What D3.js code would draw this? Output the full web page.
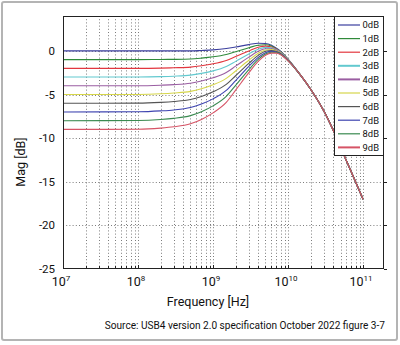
<!DOCTYPE html>
<html><head><meta charset="utf-8">
<script src="https://cdn.jsdelivr.net/npm/d3@7"></script>
<style>
body{margin:0;background:#fff}
svg{display:block}
text{font-family:Roboto,"Noto Sans",sans-serif;fill:#111}
</style>
</head><body>
<svg id="chart" width="400" height="345"></svg>
<script>
// ---- data ----
const freqHz = [1e7,1e8,2e8,3e8,5e8,7e8,1e9,1.5e9,2e9,3e9,4e9,5e9,6e9,7e9,8e9,1e10,1.5e10,2e10,3e10,4e10,6e10,1e11];
const seriesNames = ["0dB","1dB","2dB","3dB","4dB","5dB","6dB","7dB","8dB","9dB"];
const mag0dB = [0,0,0,0,0,0.05,0.12,0.28,0.45,0.72,0.88,0.85,0.65,0.30,-0.05,-0.95,-2.9,-4.4,-6.9,-9.1,-12.6,-17.0];
const mag1dB = [-1,-1.0,-0.98,-0.97,-0.93,-0.83,-0.68,-0.41,-0.10,0.36,0.65,0.70,0.55,0.24,-0.09,-0.97,-2.9,-4.4,-6.9,-9.1,-12.6,-17.0];
const mag2dB = [-2,-2.0,-1.97,-1.93,-1.86,-1.71,-1.48,-1.09,-0.65,0.0,0.42,0.55,0.45,0.18,-0.14,-0.99,-2.9,-4.4,-6.9,-9.1,-12.6,-17.0];
const mag3dB = [-3,-2.99,-2.95,-2.90,-2.78,-2.58,-2.29,-1.78,-1.20,-0.35,0.19,0.40,0.35,0.12,-0.18,-1.02,-2.9,-4.4,-6.9,-9.1,-12.6,-17.0];
const mag4dB = [-4,-3.99,-3.93,-3.87,-3.71,-3.46,-3.09,-2.47,-1.75,-0.71,-0.04,0.25,0.25,0.06,-0.23,-1.04,-2.9,-4.4,-6.9,-9.1,-12.6,-17.0];
const mag5dB = [-5,-4.99,-4.92,-4.83,-4.64,-4.34,-3.89,-3.15,-2.30,-1.07,-0.28,0.10,0.15,-0.01,-0.27,-1.06,-2.9,-4.4,-6.9,-9.1,-12.6,-17.0];
const mag6dB = [-6,-5.99,-5.90,-5.80,-5.57,-5.22,-4.69,-3.84,-2.85,-1.43,-0.51,-0.05,0.05,-0.07,-0.32,-1.08,-2.9,-4.4,-6.9,-9.1,-12.6,-17.0];
const mag7dB = [-7,-6.98,-6.88,-6.77,-6.49,-6.09,-5.50,-4.53,-3.40,-1.78,-0.74,-0.20,-0.05,-0.13,-0.36,-1.10,-2.9,-4.4,-6.9,-9.1,-12.6,-17.0];
const mag8dB = [-8,-7.98,-7.87,-7.73,-7.42,-6.97,-6.30,-5.21,-3.95,-2.14,-0.97,-0.35,-0.15,-0.19,-0.41,-1.13,-2.9,-4.4,-6.9,-9.1,-12.6,-17.0];
const mag9dB = [-9,-8.98,-8.85,-8.70,-8.35,-7.85,-7.10,-5.90,-4.50,-2.50,-1.20,-0.50,-0.25,-0.25,-0.45,-1.15,-2.9,-4.4,-6.9,-9.1,-12.6,-17.0];
const seriesValues = [mag0dB,mag1dB,mag2dB,mag3dB,mag4dB,mag5dB,mag6dB,mag7dB,mag8dB,mag9dB];
const yTicks = [0,-5,-10,-15,-20,-25];
const xTickExponents = [7,8,9,10,11];
const xLabel = "Frequency [Hz]";
const yLabel = "Mag [dB]";
const sourceText = "Source: USB4 version 2.0 specification October 2022 figure 3-7";

// ---- styling ----
const colors = ["#3b3f9e","#2f8a3a","#e2363e","#62c9cf","#9a5ea2","#d6d64a","#555555","#3e44b0","#3a8a50","#d65466"];
const legendWidths = [1.2,1.2,1.2,2,2,1.2,1.2,1.2,1.2,2];

const svg = d3.select("#chart");
const L=63, T=16, R=384, B=269;
const x = d3.scaleLog().domain([1e7,1.9e11]).range([L,R]);
const y = d3.scaleLinear().domain([-25,4]).range([B,T]);

// outer frame
svg.append("rect").attr("x",2).attr("y",2).attr("width",395).attr("height",338)
  .attr("rx",2).attr("fill","#fff").attr("stroke","#b4b4b4").attr("stroke-width",2);

// grid
const minorX = [];
for (let e=7;e<=11;e++) for (let m=1;m<=9;m++){ const v=m*Math.pow(10,e); if (v>1e7 && v<1.9e11) minorX.push(v); }
const grid = svg.append("g").attr("stroke","#5a5a5a").attr("stroke-width",0.8).attr("stroke-dasharray","1,2.2");
grid.selectAll("line.v").data(minorX).join("line").attr("class","v")
  .attr("x1",d=>Math.round(x(d))+0.5).attr("x2",d=>Math.round(x(d))+0.5).attr("y1",T).attr("y2",B);
grid.selectAll("line.h").data(yTicks.filter(d=>d>-25)).join("line").attr("class","h")
  .attr("x1",L).attr("x2",R).attr("y1",d=>Math.round(y(d))+0.5).attr("y2",d=>Math.round(y(d))+0.5);

// curves
const line = d3.line().x(d=>x(d[0])).y(d=>y(d[1])).curve(d3.curveMonotoneX);
svg.append("g").selectAll("path").data(seriesValues).join("path")
  .attr("d",vals=>line(freqHz.map((f,i)=>[f,vals[i]])))
  .attr("fill","none").attr("stroke",(d,i)=>colors[i]).attr("stroke-width",1.1);

// axes frame + ticks
const ax = svg.append("g");
ax.append("rect").attr("x",L+0.5).attr("y",T+0.5).attr("width",R-L-1).attr("height",B-T-1)
  .attr("fill","none").attr("stroke","#222").attr("stroke-width",1);
const allX = minorX.concat([1e7]);
ax.selectAll("line.bt").data(allX).join("line")
  .attr("x1",d=>Math.round(x(d))+0.5).attr("x2",d=>Math.round(x(d))+0.5)
  .attr("y1",B).attr("y2",d=>Number.isInteger(Math.log10(d))?B-4:B-3).attr("stroke","#222");
ax.selectAll("line.rt").data(yTicks).join("line")
  .attr("x1",R).attr("x2",R+3).attr("y1",d=>Math.round(y(d))+0.5).attr("y2",d=>Math.round(y(d))+0.5).attr("stroke","#222");

// y tick labels
svg.append("g").selectAll("text").data(yTicks).join("text")
  .attr("x",55).attr("y",d=>y(d)+4).attr("text-anchor","end").attr("font-size",11.5).text(d=>d);

// x tick labels 10^n
const xl = svg.append("g").selectAll("text").data(xTickExponents).join("text")
  .attr("x",d=>x(Math.pow(10,d))-2).attr("y",286).attr("text-anchor","middle").attr("font-size",12.5);
xl.append("tspan").text("10");
xl.append("tspan").attr("dy",-5).attr("font-size",8).text(d=>d);

// axis labels
svg.append("text").attr("x",208).attr("y",306).attr("text-anchor","middle").attr("font-size",12.5).text(xLabel);
svg.append("text").attr("transform","translate(25,162) rotate(-90)").attr("text-anchor","middle").attr("font-size",12.5).text(yLabel);

// source
svg.append("text").attr("x",385).attr("y",329).attr("text-anchor","end").attr("font-size",10.1).text(sourceText);

// legend
const lg = svg.append("g");
lg.append("rect").attr("x",334.5).attr("y",16.5).attr("width",49).attr("height",139)
  .attr("fill","#fff").attr("stroke","#222").attr("stroke-width",1);
const rowY = i => 25 + i*13.6;
lg.selectAll("line").data(seriesNames).join("line")
  .attr("x1",338).attr("x2",360).attr("y1",(d,i)=>rowY(i)).attr("y2",(d,i)=>rowY(i))
  .attr("stroke",(d,i)=>colors[i]).attr("stroke-width",(d,i)=>legendWidths[i]);
lg.selectAll("text").data(seriesNames).join("text")
  .attr("x",379).attr("y",(d,i)=>rowY(i)+3.3).attr("text-anchor","end").attr("font-size",9.4).text(d=>d);
</script>
</body></html>
